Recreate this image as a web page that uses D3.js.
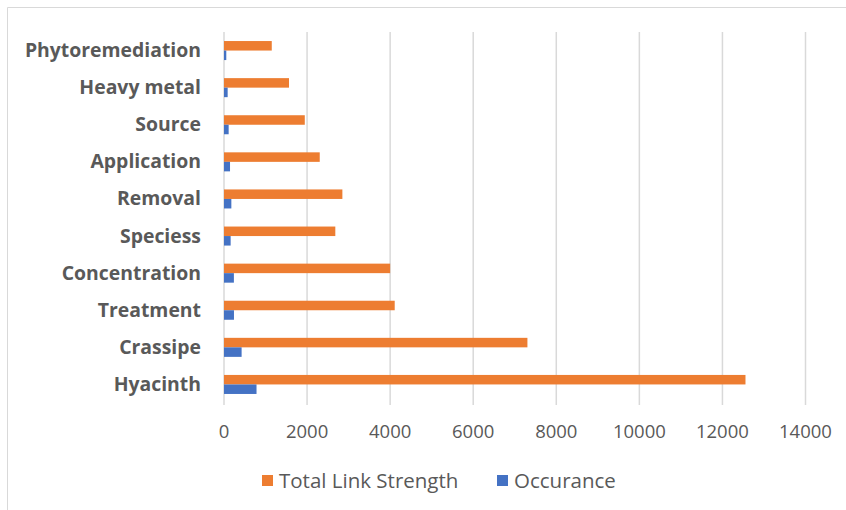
<!DOCTYPE html>
<html>
<head>
<meta charset="utf-8">
<script src="https://cdn.jsdelivr.net/npm/d3@7"></script>
<style>
    body { margin: 0; background: #fff; }
    svg { display: block; }
    .cat-label { font-family: "Open Sans", sans-serif; font-weight: bold; fill: #595959; }
    .tick-label { font-family: "Open Sans", sans-serif; fill: #595959; }
    .legend-label { font-family: "Open Sans", sans-serif; fill: #595959; }
</style>
</head>
<body>
<div id="chart"></div>
<script>
// categories, top to bottom
let categories = ["Phytoremediation", "Heavy metal", "Source", "Application", "Removal",
    "Speciess", "Concentration", "Treatment", "Crassipe", "Hyacinth"];

// series values
let linkStrength = [1150, 1565, 1945, 2305, 2850, 2680, 4000, 4110, 7305, 12555];
let occurance = [55, 88, 112, 145, 177, 160, 238, 240, 424, 783];

let seriesNames = ["Total Link Strength", "Occurance"];
let seriesColors = ["#ED7D31", "#4472C4"];
let xTicks = [0, 2000, 4000, 6000, 8000, 10000, 12000, 14000];

let width = 846, height = 510;

let svg = d3.select("#chart").append("svg")
    .attr("width", width)
    .attr("height", height);

// chart frame
svg.append("path")
    .attr("d", `M7.5,${height} L7.5,7.5 L${width},7.5`)
    .attr("fill", "none")
    .attr("stroke", "#d9d9d9")
    .attr("stroke-width", 1);

let x = d3.scaleLinear()
    .domain([0, 14000])
    .range([224, 805.5]);

let y = d3.scaleBand()
    .domain(categories)
    .range([32, 403]);

let ySub = d3.scaleBand()
    .domain(seriesNames)
    .range([0, y.bandwidth()])
    .paddingInner(0)
    .paddingOuter(0.95);

// gridlines
svg.append("g")
    .selectAll("line")
    .data(xTicks)
    .enter().append("line")
    .attr("x1", d => x(d))
    .attr("x2", d => x(d))
    .attr("y1", 32)
    .attr("y2", 405)
    .attr("stroke", "#d9d9d9")
    .attr("stroke-width", 1.5);

// tick labels
svg.append("g")
    .selectAll("text")
    .data(xTicks)
    .enter().append("text")
    .attr("class", "tick-label")
    .attr("x", d => x(d))
    .attr("y", 438)
    .attr("text-anchor", "middle")
    .style("font-size", "18.5px")
    .text(d => d);

// bars
let rows = categories.map((c, i) => ({cat: c, values: [linkStrength[i], occurance[i]]}));

let groups = svg.append("g")
    .selectAll("g")
    .data(rows)
    .enter().append("g")
    .attr("transform", d => `translate(0, ${y(d.cat)})`);

groups.selectAll("rect")
    .data(d => d.values.map((v, j) => ({name: seriesNames[j], value: v, color: seriesColors[j]})))
    .enter().append("rect")
    .attr("x", x(0))
    .attr("y", d => ySub(d.name))
    .attr("width", d => x(d.value) - x(0))
    .attr("height", ySub.bandwidth())
    .attr("fill", d => d.color);

// category labels
svg.append("g")
    .selectAll("text")
    .data(categories)
    .enter().append("text")
    .attr("class", "cat-label")
    .attr("x", 201)
    .attr("y", d => y(d) + y.bandwidth() / 2 + 6.5)
    .attr("text-anchor", "end")
    .style("font-size", "19.4px")
    .text(d => d);

// legend
let legendX = [262, 497];
let legend = svg.append("g")
    .selectAll("g")
    .data(seriesNames)
    .enter().append("g")
    .attr("transform", (d, i) => `translate(${legendX[i]}, 475)`);

legend.append("rect")
    .attr("width", 11)
    .attr("height", 11)
    .attr("fill", (d, i) => seriesColors[i]);

legend.append("text")
    .attr("class", "legend-label")
    .attr("x", 17)
    .attr("y", 13)
    .style("font-size", "20.5px")
    .text(d => d);
</script>
</body>
</html>
